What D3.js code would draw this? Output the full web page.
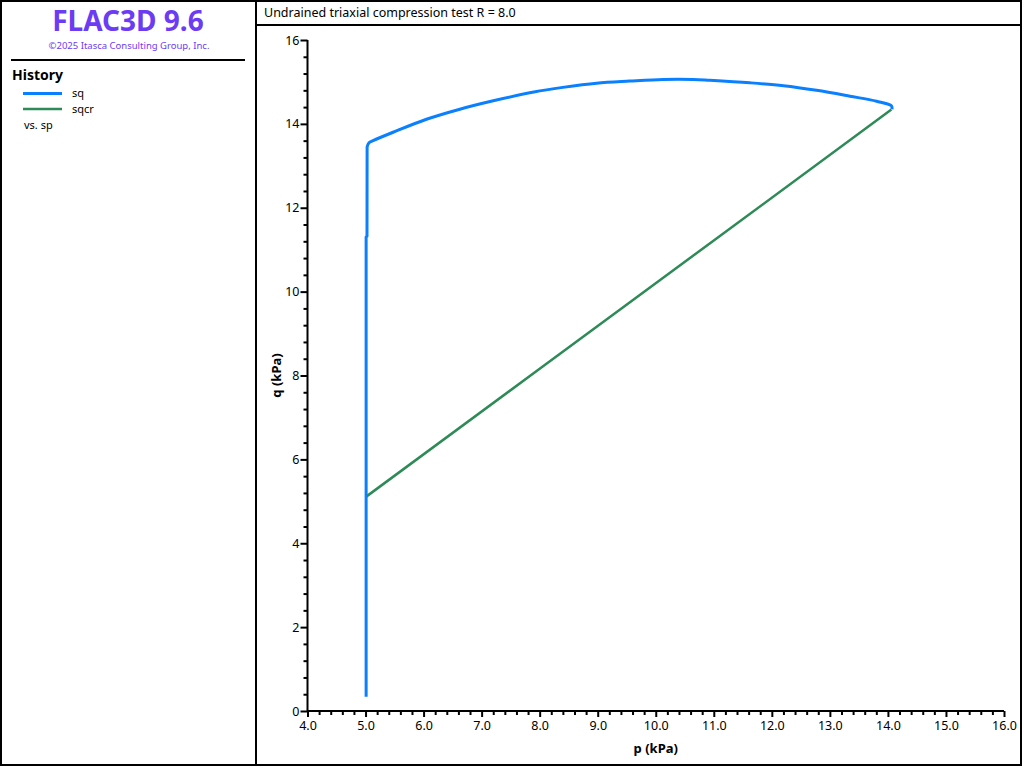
<!DOCTYPE html>
<html>
<head>
<meta charset="utf-8">
<script src="https://cdn.jsdelivr.net/npm/d3@7/dist/d3.min.js"></script>
<style>
  html, body { margin: 0; padding: 0; background: #fff; }
  svg { display: block; }
  text { font-family: "Noto Sans", "Open Sans", sans-serif; }
</style>
</head>
<body>
<svg id="chart" width="1024" height="768"></svg>
<script>
// ---- data ----
const titleText = "Undrained triaxial compression test R = 8.0";
const xLabel = "p (kPa)";
const yLabel = "q (kPa)";
const legendNames = ["sq", "sqcr"];
const legendVs = "vs. sp";

const xTicks = [4, 5, 6, 7, 8, 9, 10, 11, 12, 13, 14, 15, 16];
const yTicks = [0, 2, 4, 6, 8, 10, 12, 14, 16];

// sq vs sp : elastic (vertical) part
const sqStemP = [5.01, 5.01, 5.025, 5.027];
const sqStemQ = [0.34, 11.30, 11.32, 13.45];
// sq vs sp : yielding (curved) part
const sqCurveP = [5.027, 5.06, 5.13, 5.475, 6.05, 6.625, 7.20, 7.90, 8.40, 8.98, 9.55, 10.13, 10.645, 10.93, 11.62, 12.20, 12.77, 13.345, 13.805, 14.06, 14.07];
const sqCurveQ = [13.45, 13.55, 13.60, 13.80, 14.11, 14.35, 14.55, 14.76, 14.87, 14.97, 15.02, 15.06, 15.06, 15.04, 14.98, 14.91, 14.80, 14.66, 14.54, 14.43, 14.35];
// sqcr vs sp
const sqcrP = [5.0, 8.0, 11.0, 14.06];
const sqcrQ = [5.10, 8.16, 11.22, 14.34];

// ---- drawing ----
const svg = d3.select("#chart");
const blue = "#0a80ff", green = "#2e8b57", purple = "#6c3cf4";

// outer frame and panels
svg.append("rect").attr("x", 1).attr("y", 1).attr("width", 1020).attr("height", 764)
  .attr("fill", "none").attr("stroke", "#000").attr("stroke-width", 2);
svg.append("line").attr("x1", 256).attr("x2", 256).attr("y1", 0).attr("y2", 766)
  .attr("stroke", "#000").attr("stroke-width", 2);
svg.append("line").attr("x1", 256).attr("x2", 1022).attr("y1", 25).attr("y2", 25)
  .attr("stroke", "#000").attr("stroke-width", 2);

// left panel
svg.append("text").attr("x", 128).attr("y", 31).attr("text-anchor", "middle")
  .attr("font-size", 28).attr("font-weight", "bold").attr("fill", purple).text("FLAC3D 9.6");
svg.append("text").attr("x", 129).attr("y", 49).attr("text-anchor", "middle")
  .attr("font-size", 9.5).attr("fill", purple).text("\u00A92025 Itasca Consulting Group, Inc.");
svg.append("line").attr("x1", 11).attr("x2", 245).attr("y1", 60).attr("y2", 60)
  .attr("stroke", "#000").attr("stroke-width", 2);
svg.append("text").attr("x", 12).attr("y", 80).attr("font-size", 14).attr("font-weight", "bold")
  .attr("fill", "#000").text("History");
const legColors = [blue, green];
legendNames.forEach((n, i) => {
  const yy = 93.5 + i * 15.5;
  svg.append("line").attr("x1", 23).attr("x2", 62).attr("y1", yy).attr("y2", yy)
    .attr("stroke", legColors[i]).attr("stroke-width", i === 0 ? 3 : 2.5);
  svg.append("text").attr("x", 72).attr("y", yy + 3.5).attr("font-size", 11).attr("fill", "#000").text(n);
});
svg.append("text").attr("x", 24).attr("y", 129).attr("font-size", 11).attr("fill", "#000").text(legendVs);

// title
svg.append("text").attr("x", 264).attr("y", 17).attr("font-size", 12.5).attr("fill", "#000").text(titleText);

// scales
const x = d3.scaleLinear().domain([4, 16]).range([307.5, 1004]);
const y = d3.scaleLinear().domain([0, 16]).range([711, 40]);

// axes
const minorX = d3.range(4, 16.0001, 0.2).filter(v => Math.abs(v - Math.round(v)) > 1e-6);
const minorY = d3.range(0, 16.0001, 0.4).filter(v => Math.abs(v / 2 - Math.round(v / 2)) > 1e-6);

const gx = svg.append("g").attr("transform", `translate(0,${y(0)})`);
gx.call(d3.axisBottom(x).tickValues(minorX).tickSize(4).tickFormat(""));
gx.call(g => g.select(".domain").remove());
const gx2 = svg.append("g").attr("transform", `translate(0,${y(0)})`);
gx2.call(d3.axisBottom(x).tickValues(xTicks).tickSize(6).tickPadding(4).tickFormat(d3.format(".1f")));
gx2.select(".domain").attr("d", `M${x(4)},0H${x(16)}`);

const gy = svg.append("g").attr("transform", `translate(${x(4)},0)`);
gy.call(d3.axisLeft(y).tickValues(minorY).tickSize(4).tickFormat(""));
gy.call(g => g.select(".domain").remove());
const gy2 = svg.append("g").attr("transform", `translate(${x(4)},0)`);
gy2.call(d3.axisLeft(y).tickValues(yTicks).tickSize(7).tickPadding(1).tickFormat(d3.format("d")));
gy2.select(".domain").attr("d", `M0,${y(16)}V${y(0)}`);

svg.selectAll(".tick line").attr("stroke", "#000").attr("stroke-width", 2);
svg.selectAll(".domain").attr("stroke", "#000").attr("stroke-width", 2);
svg.selectAll(".tick text").attr("font-size", 12.5).attr("fill", "#000")
  .attr("font-family", "'Noto Sans', 'Open Sans', sans-serif");

// axis labels
svg.append("text").attr("x", (x(4) + x(16)) / 2).attr("y", 753).attr("text-anchor", "middle")
  .attr("font-size", 13).attr("font-weight", "bold").attr("fill", "#000").text(xLabel);
svg.append("text").attr("transform", `translate(281,${(y(0) + y(16)) / 2}) rotate(-90)`)
  .attr("text-anchor", "middle").attr("font-size", 13).attr("font-weight", "bold")
  .attr("fill", "#000").text(yLabel);

// series
const lineLin = d3.line().x(d => x(d[0])).y(d => y(d[1]));
const lineSmooth = d3.line().x(d => x(d[0])).y(d => y(d[1])).curve(d3.curveCatmullRom.alpha(0.5));
svg.append("path").datum(sqcrP.map((p, i) => [p, sqcrQ[i]]))
  .attr("d", lineLin).attr("fill", "none").attr("stroke", green).attr("stroke-width", 2.5);
const sqPath = lineLin(sqStemP.map((p, i) => [p, sqStemQ[i]])) +
  lineSmooth(sqCurveP.map((p, i) => [p, sqCurveQ[i]])).replace(/^M/, "L");
svg.append("path").attr("d", sqPath).attr("fill", "none").attr("stroke", blue)
  .attr("stroke-width", 3).attr("stroke-linejoin", "round");
</script>
</body>
</html>
